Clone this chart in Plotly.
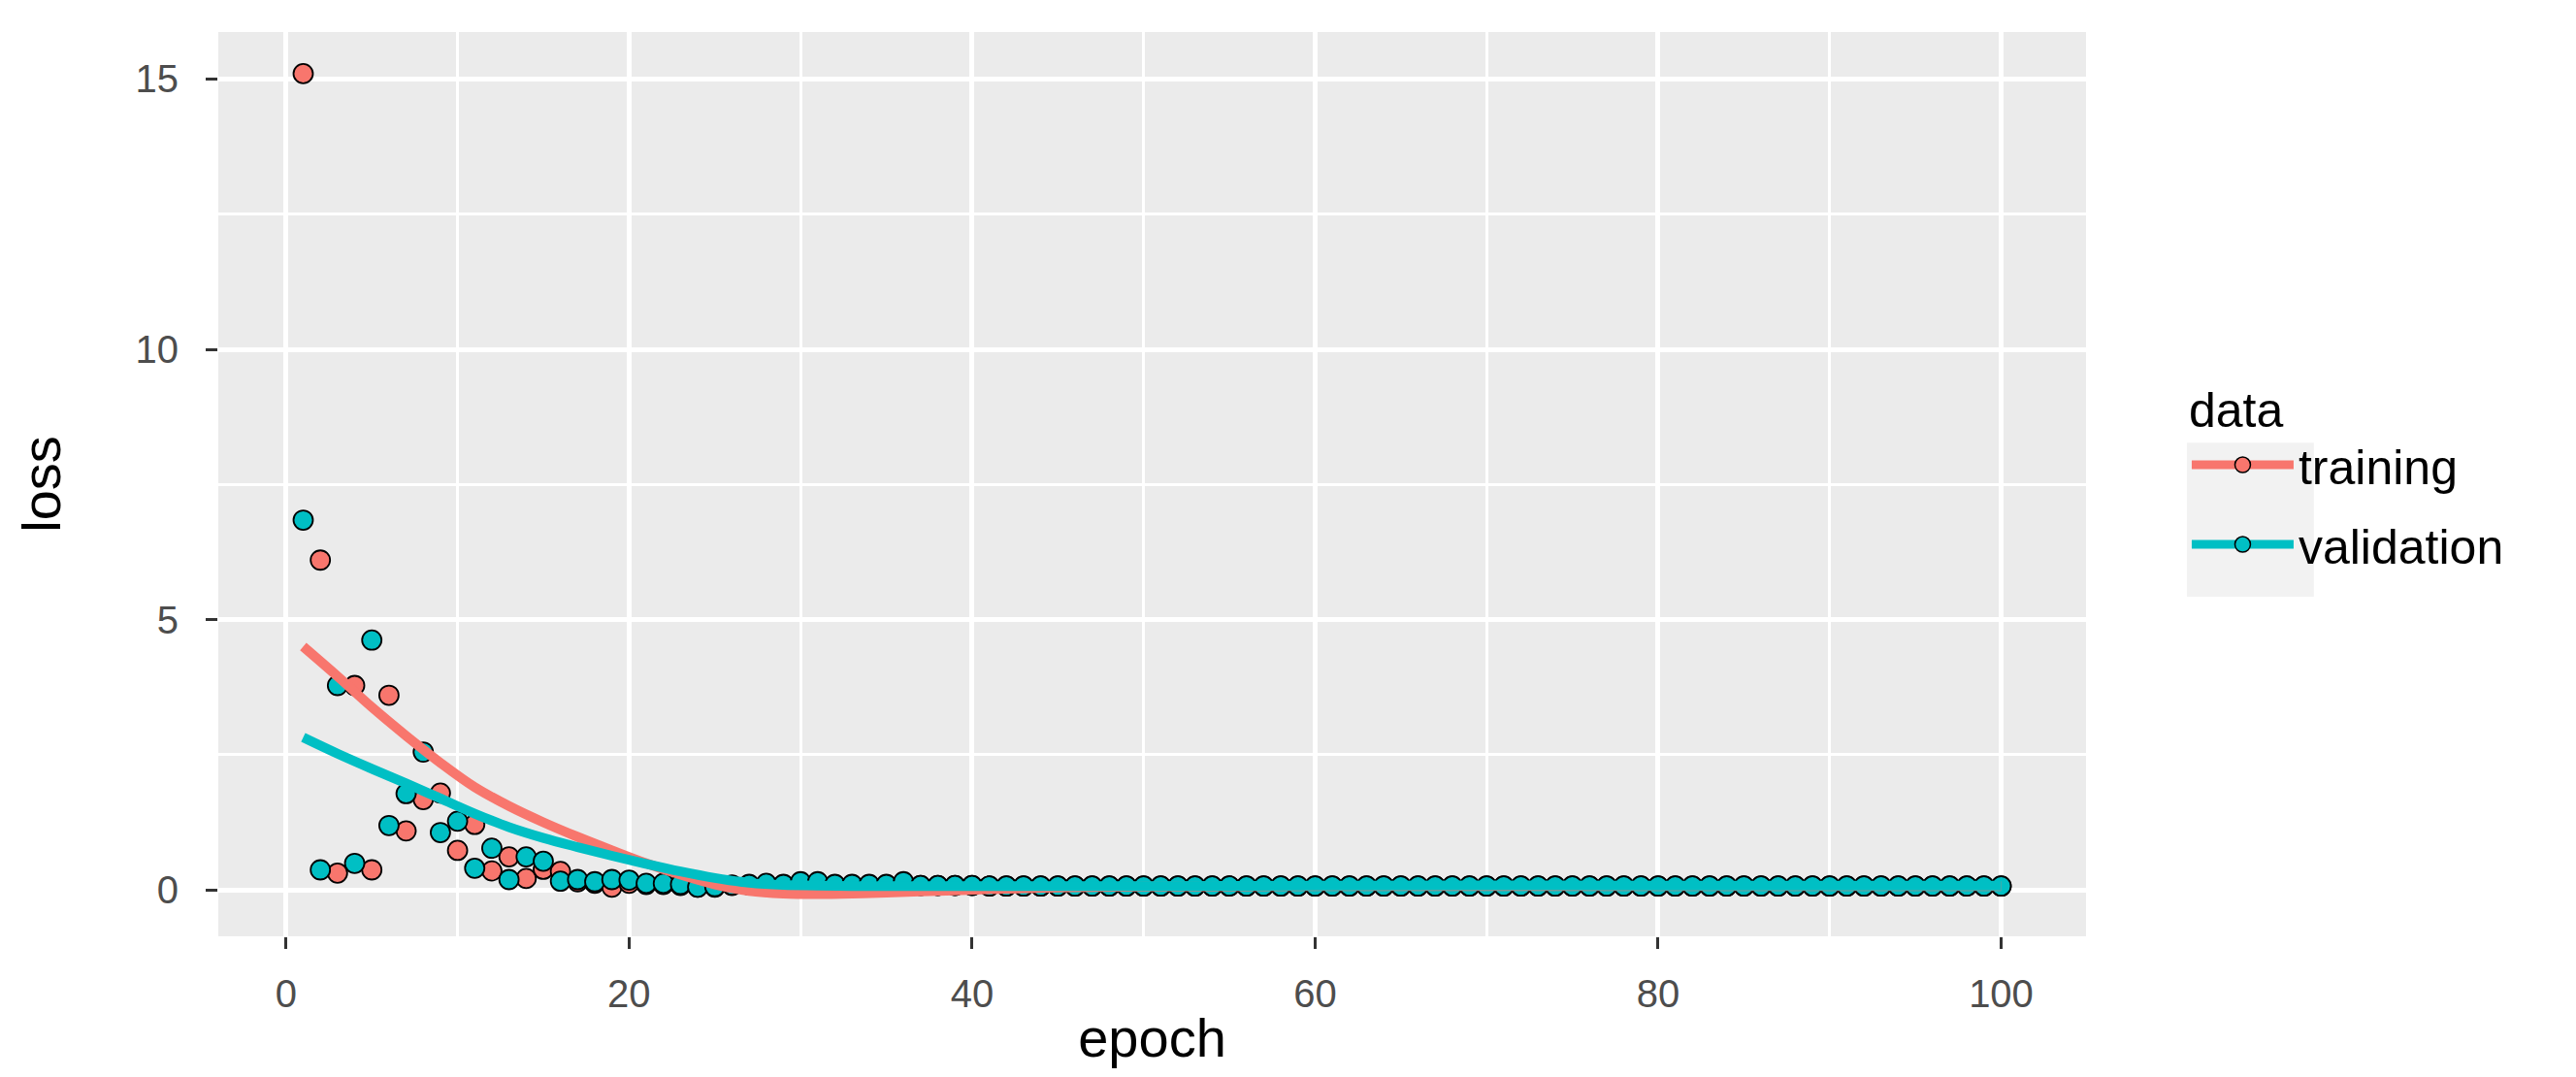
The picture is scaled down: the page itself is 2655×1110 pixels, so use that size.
import plotly.graph_objects as go

# loss per epoch
epochs = list(range(1, 101))

train_loss = [15.1, 6.1, 0.31, 3.78, 0.37, 3.6, 1.09, 1.67, 1.79, 0.73,
              1.21, 0.35, 0.61, 0.21, 0.38, 0.34, 0.15, 0.12, 0.05, 0.12,
              0.1, 0.1, 0.08, 0.05, 0.05, 0.08, 0.09, 0.1, 0.09, 0.12,
              0.12, 0.09, 0.09, 0.09, 0.09, 0.12, 0.08, 0.08, 0.08, 0.08,
              0.07, 0.07, 0.07, 0.07, 0.07, 0.07, 0.07, 0.07, 0.07, 0.07,
              0.07, 0.07, 0.07, 0.07, 0.07, 0.07, 0.07, 0.07, 0.07, 0.07,
              0.07, 0.07, 0.07, 0.07, 0.07, 0.07, 0.07, 0.07, 0.07, 0.07,
              0.07, 0.07, 0.07, 0.07, 0.07, 0.07, 0.07, 0.07, 0.07, 0.07,
              0.07, 0.07, 0.07, 0.07, 0.07, 0.07, 0.07, 0.07, 0.07, 0.07,
              0.07, 0.07, 0.07, 0.07, 0.07, 0.07, 0.07, 0.07, 0.07, 0.07]

val_loss = [6.84, 0.37, 3.78, 0.49, 4.62, 1.19, 1.78, 2.55, 1.06, 1.27,
            0.4, 0.77, 0.19, 0.61, 0.53, 0.16, 0.19, 0.15, 0.19, 0.18,
            0.12, 0.12, 0.1, 0.05, 0.06, 0.09, 0.1, 0.12, 0.1, 0.15,
            0.15, 0.1, 0.1, 0.1, 0.1, 0.15, 0.08, 0.08, 0.08, 0.08,
            0.07, 0.07, 0.07, 0.07, 0.07, 0.07, 0.07, 0.07, 0.07, 0.07,
            0.07, 0.07, 0.07, 0.07, 0.07, 0.07, 0.07, 0.07, 0.07, 0.07,
            0.07, 0.07, 0.07, 0.07, 0.07, 0.07, 0.07, 0.07, 0.07, 0.07,
            0.07, 0.07, 0.07, 0.07, 0.07, 0.07, 0.07, 0.07, 0.07, 0.07,
            0.07, 0.07, 0.07, 0.07, 0.07, 0.07, 0.07, 0.07, 0.07, 0.07,
            0.07, 0.07, 0.07, 0.07, 0.07, 0.07, 0.07, 0.07, 0.07, 0.07]

# smoothed curves (geom_smooth) read at a few epochs
smooth_epochs = [1, 3, 5, 7, 9, 11, 13, 15, 17, 19, 21, 23, 25, 27, 29,
                 31, 33, 35, 38, 41, 45, 50, 60, 80, 100]
train_smooth = [4.5, 3.95, 3.38, 2.85, 2.35, 1.9, 1.55, 1.25, 0.98, 0.73,
                0.49, 0.28, 0.1, -0.02, -0.07, -0.08, -0.07, -0.05, -0.02,
                0.01, 0.04, 0.06, 0.07, 0.07, 0.07]
val_smooth = [2.82, 2.52, 2.24, 1.97, 1.69, 1.41, 1.16, 0.96, 0.79, 0.63,
              0.48, 0.34, 0.22, 0.13, 0.09, 0.08, 0.07, 0.07, 0.07,
              0.07, 0.07, 0.07, 0.08, 0.08, 0.08]

names = ["training", "validation"]
colors = ["#F8766D", "#00BFC4"]

font = "Liberation Sans, Arial, sans-serif"

fig = go.Figure()

for name, ys, col in zip(names, [train_loss, val_loss], colors):
    fig.add_trace(go.Scatter(
        x=epochs, y=ys, mode="markers", name=name, legendgroup=name,
        showlegend=False,
        marker=dict(symbol="circle", size=20, color=col,
                    line=dict(color="black", width=1.8))))

for name, ys, col in zip(names, [train_smooth, val_smooth], colors):
    fig.add_trace(go.Scatter(
        x=smooth_epochs, y=ys, mode="lines", name=name, legendgroup=name,
        showlegend=False, line=dict(color=col, width=10, shape="spline")))

# legend entries (line with point, like the ggplot key)
for name, col in zip(names, colors):
    fig.add_trace(go.Scatter(
        x=[None], y=[None], mode="lines+markers", name=name,
        legendgroup=name,
        line=dict(color=col, width=9),
        marker=dict(symbol="circle", size=18, color=col,
                    line=dict(color="black", width=1.5))))

axis_common = dict(
    showgrid=True, gridcolor="white", gridwidth=5,
    zeroline=False, showline=False,
    ticks="outside", ticklen=12, tickwidth=3, tickcolor="#333333",
    tickfont=dict(family=font, size=40, color="#4D4D4D"),
)

fig.update_xaxes(
    range=[-3.95, 104.95], tickmode="array",
    tickvals=[0, 20, 40, 60, 80, 100],
    minor=dict(showgrid=True, gridcolor="white", gridwidth=3,
               tickmode="array", tickvals=[10, 30, 50, 70, 90]),
    title=dict(text="epoch", font=dict(family=font, size=56, color="black"),
               standoff=4),
    ticklabelstandoff=12,
    **axis_common)

fig.update_yaxes(
    range=[-0.86, 15.87], tickmode="array", tickvals=[0, 5, 10, 15],
    minor=dict(showgrid=True, gridcolor="white", gridwidth=3,
               tickmode="array", tickvals=[2.5, 7.5, 12.5]),
    title=dict(text="loss", font=dict(family=font, size=56, color="black"),
               standoff=58),
    ticklabelstandoff=20,
    **axis_common)

fig.update_layout(
    width=2655, height=1110,
    margin=dict(l=217, r=513, t=25, b=153),
    plot_bgcolor="#EBEBEB", paper_bgcolor="white",
    legend=dict(
        title=dict(text="data", font=dict(family=font, size=50, color="black")),
        font=dict(family=font, size=50, color="black"),
        x=1.054, xanchor="left", y=0.633, yanchor="top",
        bgcolor="rgba(0,0,0,0)", tracegroupgap=14, itemwidth=105,
    ),
    # grey background of the legend keys
    shapes=[dict(type="rect", xref="paper", yref="paper",
                 x0=1.054, x1=1.122, y0=0.3755, y1=0.546,
                 fillcolor="#F2F2F2", line=dict(width=0), layer="below")],
)

fig.write_html("out.html")
